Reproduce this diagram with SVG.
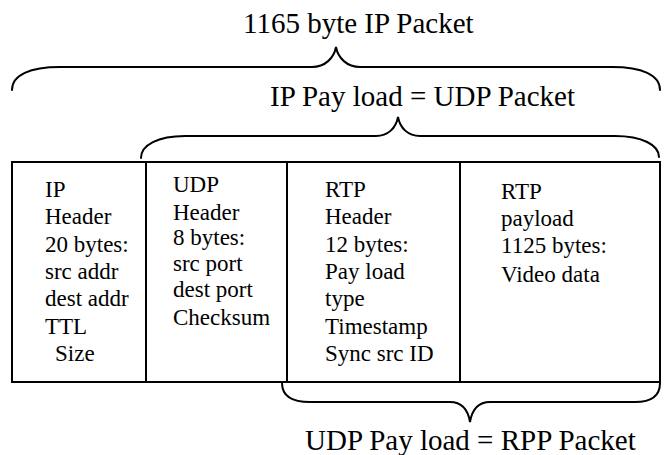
<svg xmlns="http://www.w3.org/2000/svg" width="664" height="455" viewBox="0 0 664 455">
<style>
.t{font-family:"Liberation Serif","Times New Roman",serif;font-size:29px;fill:#000}
.c{font-family:"Liberation Serif","Times New Roman",serif;font-size:23px;fill:#000}
.ln{stroke:#000;stroke-width:2;fill:none}
.br{stroke:#000;stroke-width:2;fill:none;stroke-linecap:round}
</style>
<rect width="664" height="455" fill="#fff"/>
<g id="titles">
<text class="t" x="243" y="33">1165 byte IP Packet</text>
<text class="t" x="270" y="106">IP Pay load = UDP Packet</text>
<text class="t" x="305" y="450">UDP Pay load = RPP Packet</text>
</g>
<g id="braces">
<path class="br" d="M12,90 C12,75 30,67 60,67 L312,67 C325,67 334,58 336,47 C338,58 347,67 360,67 L612,67 C642,67 660,75 660,90"/>
<path class="br" d="M141,158 C141,145 158,136 185,136 L376,136 C388,136 396,128 398,117 C400,128 408,136 420,136 L615,136 C642,136 659,145 659,157"/>
<path class="br" d="M282,383 C282,396 292,402 310,402 L450,402 C462,402 468,410 470,422 C472,410 478,402 490,402 L635,402 C652,402 660,396 660,383"/>
</g>
<g id="packet">
<rect class="ln" x="12" y="162" width="648" height="220"/>
<line class="ln" x1="146" y1="162" x2="146" y2="382"/>
<line class="ln" x1="287" y1="162" x2="287" y2="382"/>
<line class="ln" x1="460" y1="162" x2="460" y2="382"/>
</g>
<g id="ip-header">
<text class="c" x="45" y="197">IP</text>
<text class="c" x="45" y="224">Header</text>
<text class="c" x="45" y="251.5">20 bytes:</text>
<text class="c" x="45" y="279">src addr</text>
<text class="c" x="45" y="306">dest addr</text>
<text class="c" x="45" y="333.5">TTL</text>
<text class="c" x="55" y="361">Size</text>
</g>
<g id="udp-header">
<text class="c" x="173" y="192">UDP</text>
<text class="c" x="173" y="220">Header</text>
<text class="c" x="173" y="245">8 bytes:</text>
<text class="c" x="173" y="271">src port</text>
<text class="c" x="173" y="297">dest port</text>
<text class="c" x="173" y="325">Checksum</text>
</g>
<g id="rtp-header">
<text class="c" x="325" y="197">RTP</text>
<text class="c" x="325" y="224">Header</text>
<text class="c" x="325" y="251.5">12 bytes:</text>
<text class="c" x="325" y="279">Pay load</text>
<text class="c" x="325" y="306">type</text>
<text class="c" x="325" y="333.5">Timestamp</text>
<text class="c" x="325" y="361">Sync src ID</text>
</g>
<g id="rtp-payload">
<text class="c" x="501" y="199">RTP</text>
<text class="c" x="501" y="226">payload</text>
<text class="c" x="501" y="253">1125 bytes:</text>
<text class="c" x="501" y="282">Video data</text>
</g>
</svg>
